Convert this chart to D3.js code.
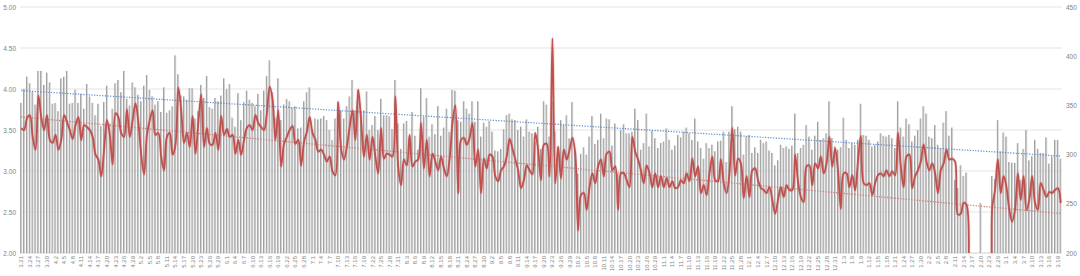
<!DOCTYPE html>
<html>
<head>
<meta charset="utf-8">
<script src="https://cdn.jsdelivr.net/npm/d3@7"></script>
<style>
    body { margin: 0; background: #fff; }
    #chart { width: 1080px; height: 276px; }
    .tick-label { font-family: "Liberation Sans", Arial, sans-serif; fill: #7f7f7f; }
</style>
</head>
<body>
<div id="chart"></div>
<script>
// daily bars (left axis), one per day starting 3.21
const barValues = [
    3.83, 4.00, 4.15, 4.07, 3.97, 3.81, 4.22, 4.22, 4.05, 4.20, 4.08, 3.82, 3.83, 3.73, 4.13, 4.15, 4.22, 3.82, 3.83, 3.99,
    3.83, 3.94, 3.76, 4.06, 3.91, 3.83, 3.68, 3.82, 3.55, 3.84, 4.04, 3.58, 3.76, 4.07, 4.11, 3.96, 4.22, 3.88, 3.80, 4.08,
    4.02, 3.93, 3.85, 4.04, 4.17, 3.99, 3.91, 3.81, 3.85, 3.72, 4.02, 3.71, 3.74, 3.79, 4.41, 4.18, 3.92, 3.91, 3.87, 4.01,
    4.01, 3.64, 3.73, 4.05, 3.89, 4.16, 3.78, 3.76, 3.89, 3.85, 3.92, 4.13, 4.00, 4.06, 3.65, 3.54, 3.95, 3.62, 3.84, 3.98,
    3.87, 3.83, 3.79, 3.94, 3.74, 3.98, 4.16, 4.35, 3.96, 3.65, 4.13, 3.62, 3.81, 3.88, 3.85, 3.77, 3.79, 3.52, 3.53, 3.85,
    3.96, 4.02, 3.50, 3.64, 3.63, 3.64, 3.67, 3.62, 3.50, 3.38, 3.64, 3.85, 3.74, 3.64, 3.79, 3.91, 4.11, 3.74, 3.99, 3.72,
    3.74, 3.97,
    3.50, 3.56, 3.67, 3.50, 3.88, 3.68, 3.68, 3.67, 3.51, 4.11, 3.58, 3.27, 3.58, 3.61, 3.42, 3.72, 3.43, 3.26, 4.01, 3.66,
    3.89, 3.42, 3.57, 3.45, 3.79, 3.43, 3.53, 3.76, 3.48, 3.99, 3.98, 3.62, 3.60, 3.85, 3.76, 3.70, 3.85, 3.60, 3.85, 3.42,
    3.59, 3.54, 3.61, 3.48, 3.25, 3.24, 3.27, 3.51, 3.68, 3.70, 3.63, 3.62, 3.50, 3.54, 3.42, 3.63, 3.48, 3.46, 3.36, 3.54,
    3.27,
    3.85, 3.81, 3.42, 3.85, 3.48, 3.29, 3.62, 3.56, 3.68, 3.40, 3.84, 3.24, 2.97, 3.21, 3.29, 3.20, 3.42, 3.67, 3.33, 3.38,
    3.70, 3.40, 3.64, 3.63, 3.31, 3.58, 2.97, 3.50, 3.57, 3.46, 3.46, 3.48, 3.76, 3.62, 3.26, 3.34, 3.70, 3.30, 3.49, 3.40,
    3.28, 3.34, 3.36, 3.52, 3.38, 3.26, 3.31, 3.44, 3.41, 3.48, 3.53, 3.46, 3.38, 3.64, 3.36, 3.28, 3.15, 3.34, 3.28, 3.32,
    3.24,
    3.36, 3.37, 3.48, 3.11, 3.48, 3.79, 3.51, 3.54, 3.48, 3.20, 3.42, 3.44, 3.22, 3.29, 3.22, 3.38, 3.34, 3.36, 3.25, 3.22,
    3.07, 3.13, 3.32, 3.28, 3.30, 3.27, 3.31, 3.70, 3.22, 3.28, 3.32, 3.56, 3.42, 3.26, 3.43, 3.60, 3.38, 3.40, 3.46, 3.85,
    3.40, 3.30, 3.26, 3.29, 3.65, 3.38, 3.28, 3.34, 3.32, 3.38, 3.82, 3.44, 3.43, 3.38, 3.30, 3.32, 3.36, 3.46, 3.43, 3.42,
    3.44,
    3.40, 3.28, 3.85, 3.53, 3.42, 3.64, 3.57, 3.36, 3.43, 3.50, 3.64, 3.79, 3.70, 3.42, 3.40, 3.56, 3.32, 3.28, 3.59, 3.73,
    3.43, 3.53, 2.89, 2.79, 3.07, 2.94, 2.98, 0, 0, 0, 0, 2.61, 0, 0, 0,
    2.94, 2.90, 3.62, 3.24, 3.47, 3.42, 3.11, 3.10, 3.10, 3.34, 2.89, 3.27, 3.50, 3.13, 3.18, 3.38, 3.27, 3.22, 3.22, 3.41,
    3.09, 3.18, 3.38, 3.38, 3.15
];

// daily line (right axis)
const lineValues = [
    327, 325, 337, 340, 318, 305, 360, 338, 325, 340, 315, 312, 320, 305, 315, 340, 333, 325, 316, 330,
    338, 315, 330, 328, 325, 318, 300, 295, 278, 305, 335, 320, 290, 342, 338, 322, 318, 346, 318, 335,
    352, 333, 300, 280, 320, 335, 345, 320, 322, 298, 284, 318, 322, 300, 310, 368, 345, 312, 322, 308,
    339, 301, 332, 361, 308, 327, 311, 310, 322, 305, 339, 320, 326, 318, 320, 301, 315, 300, 315, 327,
    330, 325, 340, 332, 328, 325, 342, 369, 356, 315, 345, 288, 311, 318, 325, 329, 311, 315, 289, 313,
    323, 338, 322, 315, 303, 305, 300, 293, 298, 283, 279, 353, 306, 295, 308, 328, 345, 315, 366, 335,
    298, 320,
    295, 318, 298, 281, 327, 296, 301, 300, 298, 359, 288, 269, 295, 289, 320, 288, 293, 295, 332, 286,
    315, 278, 301, 293, 284, 298, 286, 278, 296, 332, 350, 261, 315, 317, 310, 317, 332, 288, 305, 261,
    296, 286, 300, 298, 278, 273, 284, 288, 298, 316, 306, 295, 284, 266, 274, 289, 284, 280, 322, 305,
    274,
    310, 311, 278, 418, 271, 308, 276, 305, 295, 305, 317, 301, 223, 259, 261, 244, 267, 281, 271, 288,
    295, 278, 301, 303, 284, 288, 244, 281, 281, 274, 267, 318, 303, 295, 284, 271, 289, 281, 267, 281,
    267, 278, 267, 276, 267, 273, 266, 267, 274, 271, 281, 273, 296, 278, 288, 261, 269, 259, 281, 298,
    274,
    273, 295, 271, 261, 281, 327, 279, 296, 291, 256, 278, 257, 284, 286, 274, 266, 264, 261, 267, 254,
    240, 254, 267, 257, 269, 264, 264, 300, 273, 257, 252, 288, 289, 269, 291, 286, 298, 281, 291, 318,
    288, 306, 284, 245, 281, 281, 267, 279, 264, 293, 319, 271, 269, 271, 259, 271, 279, 281, 278, 284,
    278,
    283, 279, 322, 288, 267, 298, 300, 266, 278, 284, 293, 310, 293, 284, 291, 281, 261, 284, 291, 305,
    295, 296, 293, 239, 240, 251, 249, 0, 0, 0, 0, 0, 0, 0, 0,
    245, 264, 295, 261, 278, 267, 244, 232, 244, 281, 254, 278, 244, 254, 278, 251, 244, 271, 264, 257,
    262, 261, 264, 266, 251
];

const leftTicks = [2.00, 2.50, 3.00, 3.50, 4.00, 4.50, 5.00];
const rightTicks = [200, 250, 300, 350, 400, 450];
const startDay = new Date(2017, 2, 21);
const labelEvery = 3;

class ComboVis {

    constructor(_parentElement) {
        this.parentElement = _parentElement;
        this.days = d3.timeDay.range(startDay, d3.timeDay.offset(startDay, barValues.length));
        this.data = this.days.map((d, i) => ({
            i: i,
            label: (d.getMonth() + 1) + "." + d.getDate(),
            bar: barValues[i],
            line: lineValues[i]
        }));
        this.initVis();
    }

    initVis() {
        let vis = this;

        vis.margin = {top: 7, right: 18, bottom: 23, left: 20};
        vis.width = 1080 - vis.margin.left - vis.margin.right;
        vis.height = 276 - vis.margin.top - vis.margin.bottom;

        vis.svg = d3.select("#" + vis.parentElement).append("svg")
            .attr("width", 1080)
            .attr("height", 276)
            .append("g")
            .attr("transform", "translate(" + vis.margin.left + "," + vis.margin.top + ")");

        let defs = vis.svg.append("defs");
        let grad = defs.append("linearGradient")
            .attr("id", "barGrad")
            .attr("x1", "0").attr("x2", "1").attr("y1", "0").attr("y2", "0");
        grad.append("stop").attr("offset", "0%").attr("stop-color", "#7a7a7a");
        grad.append("stop").attr("offset", "45%").attr("stop-color", "#bebebe");
        grad.append("stop").attr("offset", "100%").attr("stop-color", "#eaeaea");

        defs.append("clipPath").attr("id", "plotClip")
            .append("rect")
            .attr("x", 0).attr("y", 0)
            .attr("width", vis.width).attr("height", vis.height);

        vis.x = d3.scaleBand()
            .domain(vis.data.map(d => d.i))
            .range([0, vis.width])
            .paddingInner(0.3)
            .paddingOuter(0.1);

        vis.yLeft = d3.scaleLinear().domain([2, 5]).range([vis.height, 0]);
        vis.yRight = d3.scaleLinear().domain([200, 450]).range([vis.height, 0]);

        vis.updateVis();
    }

    updateVis() {
        let vis = this;

        // gridlines
        vis.svg.append("g")
            .selectAll("line")
            .data(leftTicks)
            .enter().append("line")
            .attr("x1", 0).attr("x2", vis.width)
            .attr("y1", d => vis.yLeft(d)).attr("y2", d => vis.yLeft(d))
            .attr("stroke", d => d === 2 ? "#d0d0d0" : "#e3e3e3")
            .attr("stroke-width", 1);

        // left axis
        let axisL = vis.svg.append("g")
            .call(d3.axisLeft(vis.yLeft).tickValues(leftTicks).tickFormat(d3.format(".2f")).tickSize(0).tickPadding(4));
        axisL.select(".domain").remove();
        axisL.selectAll("text").attr("class", "tick-label").style("font-size", "6.5px");

        // right axis
        let axisR = vis.svg.append("g")
            .attr("transform", "translate(" + vis.width + ",0)")
            .call(d3.axisRight(vis.yRight).tickValues(rightTicks).tickFormat(d3.format("d")).tickSize(0).tickPadding(4));
        axisR.select(".domain").remove();
        axisR.selectAll("text").attr("class", "tick-label").style("font-size", "6.5px");

        // bars
        vis.svg.append("g")
            .selectAll("rect")
            .data(vis.data.filter(d => d.bar > 2))
            .enter().append("rect")
            .attr("x", d => vis.x(d.i))
            .attr("y", d => vis.yLeft(d.bar))
            .attr("width", vis.x.bandwidth())
            .attr("height", d => vis.height - vis.yLeft(d.bar))
            .attr("fill", "url(#barGrad)");

        // x labels every 3 days
        vis.svg.append("g")
            .selectAll("text")
            .data(vis.data.filter(d => d.i % labelEvery === 0))
            .enter().append("text")
            .attr("class", "tick-label")
            .attr("transform", d => "translate(" + (vis.x(d.i) + vis.x.bandwidth() / 2 + 2) + "," + (vis.height + 3) + ") rotate(-90)")
            .style("font-size", "6px")
            .style("text-anchor", "end")
            .text(d => d.label);

        // trend lines (bars: only days with a value)
        let fitBar = vis.fit(vis.data.filter(d => d.bar > 0), d => d.bar);
        let fitLine = vis.fit(vis.data, d => d.line);
        let cx = i => vis.x(i) + vis.x.bandwidth() / 2;
        let n = vis.data.length - 1;

        let lineG = vis.svg.append("g").attr("clip-path", "url(#plotClip)");

        lineG.append("line")
            .attr("x1", cx(0)).attr("x2", cx(n))
            .attr("y1", vis.yLeft(fitBar(0))).attr("y2", vis.yLeft(fitBar(n)))
            .attr("stroke", "#5a8ad0")
            .attr("stroke-width", 1.2)
            .attr("stroke-dasharray", "1.2,1.5");

        lineG.append("line")
            .attr("x1", cx(0)).attr("x2", cx(n))
            .attr("y1", vis.yRight(fitLine(0))).attr("y2", vis.yRight(fitLine(n)))
            .attr("stroke", "#d67a78")
            .attr("stroke-width", 1.2)
            .attr("stroke-dasharray", "1.2,1.5");

        // smoothed daily line
        let path = d3.line()
            .x(d => cx(d.i))
            .y(d => vis.yRight(d.line))
            .curve(d3.curveCatmullRom.alpha(0.5));

        lineG.append("path")
            .datum(vis.data)
            .attr("fill", "none")
            .attr("stroke", "#c0504d")
            .attr("stroke-opacity", 0.15)
            .attr("stroke-width", 3.5)
            .attr("d", path);

        lineG.append("path")
            .datum(vis.data)
            .attr("fill", "none")
            .attr("stroke", "#c0504d")
            .attr("stroke-width", 1.8)
            .attr("stroke-linejoin", "round")
            .attr("d", path);
    }

    // least squares fit over day index
    fit(data, acc) {
        let mx = d3.mean(data, d => d.i);
        let my = d3.mean(data, acc);
        let num = d3.sum(data, d => (d.i - mx) * (acc(d) - my));
        let den = d3.sum(data, d => (d.i - mx) * (d.i - mx));
        let b = num / den;
        return i => my + b * (i - mx);
    }
}

new ComboVis("chart");
</script>
</body>
</html>
